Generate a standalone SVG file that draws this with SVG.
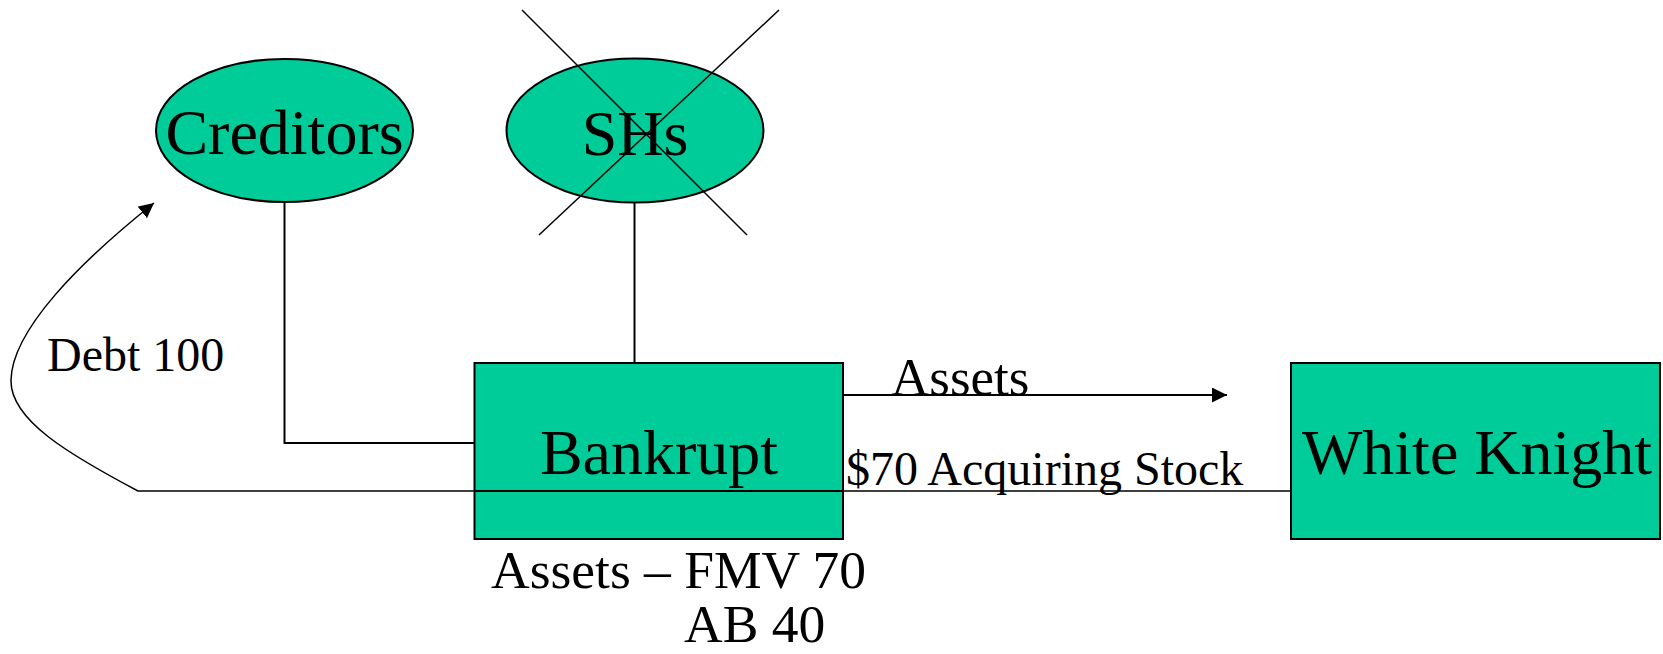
<svg xmlns="http://www.w3.org/2000/svg" width="1663" height="654" viewBox="0 0 1663 654">
  <style>
    .shape { fill: #00CC99; stroke: #000; stroke-width: 2; }
    .wire { fill: none; stroke: #000; stroke-width: 2; }
    .thin { fill: none; stroke: #000; stroke-width: 1.5; }
    text { font-family: "Liberation Serif", "Times New Roman", serif; fill: #000; }
    .big { font-size: 64px; text-anchor: middle; }
  </style>
  <defs>
    <marker id="tri" viewBox="0 0 10 10" refX="10" refY="5" markerWidth="15" markerHeight="15" markerUnits="userSpaceOnUse" orient="auto">
      <path d="M0,0 L10,5 L0,10 Z" fill="#000"/>
    </marker>
  </defs>

  <rect width="1663" height="654" fill="#fff"/>

  <!-- connectors -->
  <g id="connectors">
    <polyline class="wire" points="284.5,202 284.5,443 475,443"/>
    <line class="wire" x1="634.5" y1="202" x2="634.5" y2="363"/>
    <line class="wire" x1="843" y1="395" x2="1227" y2="395" marker-end="url(#tri)"/>
    <path class="thin" d="M 1291 491 L 138 491 C 70 455, 10 420, 11 380 C 12 330, 80 262, 154 203" marker-end="url(#tri)"/>
  </g>

  <g id="creditors">
    <ellipse class="shape" cx="284.5" cy="130.5" rx="128.5" ry="71.5"/>
    <text class="big" x="284.5" y="154">Creditors</text>
  </g>

  <g id="shareholders">
    <ellipse class="shape" cx="635" cy="130.5" rx="128.5" ry="72"/>
    <text class="big" x="635" y="155">SHs</text>
    <line class="thin" x1="522" y1="10" x2="747" y2="235"/>
    <line class="thin" x1="779" y1="10" x2="539" y2="235"/>
  </g>

  <g id="bankrupt">
    <rect class="shape" x="474.5" y="363" width="368.5" height="176"/>
    <text class="big" x="659" y="474">Bankrupt</text>
  </g>

  <!-- stock payment line crosses over the Bankrupt box -->
  <line class="wire" x1="474.5" y1="491" x2="843" y2="491"/>

  <g id="white-knight">
    <rect class="shape" x="1291" y="363" width="369" height="176"/>
    <text class="big" x="1477" y="474">White Knight</text>
  </g>

  <g id="labels">
    <text x="47" y="371" style="font-size:48px">Debt 100</text>
    <text x="891" y="395" style="font-size:53px">Assets</text>
    <text x="846" y="485" style="font-size:48px">$70 Acquiring Stock</text>
    <text x="491" y="588" style="font-size:53.5px">Assets – FMV 70</text>
    <text x="684" y="642" style="font-size:53.5px">AB 40</text>
  </g>
</svg>
